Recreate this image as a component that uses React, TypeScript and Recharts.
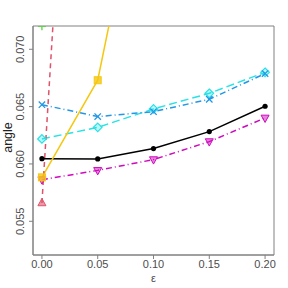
import React from "react";
import { LineChart, Line, XAxis, YAxis, ReferenceArea } from "recharts";

const eps = [0, 0.05, 0.1, 0.15, 0.2];
const seriesBlack = [0.06046, 0.06044, 0.06134, 0.06282, 0.06503];
const seriesRed = [0.0566, 0.135, null, null, null];
const seriesGreen = [0.072, 0.15, null, null, null];
const seriesBlue = [0.06517, 0.06413, 0.06456, 0.06564, 0.06788];
const seriesCyan = [0.06218, 0.06319, 0.0648, 0.06616, 0.06799];
const seriesMagenta = [0.05863, 0.05944, 0.06038, 0.06195, 0.06401];
const seriesYellow = [0.05883, 0.0673, 0.091, null, null];
const xTicks = [0, 0.05, 0.1, 0.15, 0.2];
const yTicks = [0.055, 0.06, 0.065, 0.07];

const data = eps.map((e, i) => ({
  eps: e,
  black: seriesBlack[i],
  red: seriesRed[i],
  green: seriesGreen[i],
  blue: seriesBlue[i],
  cyan: seriesCyan[i],
  magenta: seriesMagenta[i],
  yellow: seriesYellow[i],
}));

const C = {
  black: "#000000",
  red: "#DF536B",
  green: "#61D04F",
  blue: "#2297E6",
  cyan: "#28E2E5",
  magenta: "#CD0BBC",
  yellow: "#F5C710",
};

const FONT = "Liberation Sans, Arial, sans-serif";

const ok = (p: any) => p && p.cx != null && p.cy != null && p.value != null;

const CircleDot = (p: any) =>
  ok(p) ? <circle key={p.key} cx={p.cx} cy={p.cy} r={2.6} fill={C.black} /> : null;
const TriUp = (p: any) =>
  ok(p) ? (
    <polygon
      key={p.key}
      points={`${p.cx},${p.cy - 4.5} ${p.cx - 4},${p.cy + 2.8} ${p.cx + 4},${p.cy + 2.8}`}
      fill={C.red}
      fillOpacity={0.6}
      stroke={C.red}
      strokeWidth={1}
    />
  ) : null;
const TriDown = (p: any) =>
  ok(p) ? (
    <polygon
      key={p.key}
      points={`${p.cx},${p.cy + 4.5} ${p.cx - 4},${p.cy - 2.8} ${p.cx + 4},${p.cy - 2.8}`}
      fill={C.magenta}
      fillOpacity={0.5}
      stroke={C.magenta}
      strokeWidth={1}
    />
  ) : null;
const PlusDot = (p: any) =>
  ok(p) ? (
    <path key={p.key} d={`M${p.cx - 4},${p.cy}H${p.cx + 4}M${p.cx},${p.cy - 4}V${p.cy + 4}`} stroke={C.green} strokeWidth={1.3} fill="none" />
  ) : null;
const XDot = (p: any) =>
  ok(p) ? (
    <path key={p.key} d={`M${p.cx - 3.2},${p.cy - 3.2}L${p.cx + 3.2},${p.cy + 3.2}M${p.cx - 3.2},${p.cy + 3.2}L${p.cx + 3.2},${p.cy - 3.2}`} stroke={C.blue} strokeWidth={1.3} fill="none" />
  ) : null;
const DiamondDot = (p: any) =>
  ok(p) ? (
    <polygon
      key={p.key}
      points={`${p.cx},${p.cy - 4.3} ${p.cx + 4.3},${p.cy} ${p.cx},${p.cy + 4.3} ${p.cx - 4.3},${p.cy}`}
      fill={C.cyan}
      fillOpacity={0.3}
      stroke={C.cyan}
      strokeWidth={1.2}
    />
  ) : null;
const SquareDot = (p: any) =>
  ok(p) ? (
    <rect key={p.key} x={p.cx - 3.5} y={p.cy - 3.5} width={7} height={7} fill={C.yellow} fillOpacity={0.8} stroke={C.yellow} strokeWidth={1} />
  ) : null;

const YTick = (p: any) => {
  const { x, y, payload } = p;
  return (
    <text
      x={x - 3}
      y={y}
      transform={`rotate(-90 ${x - 3} ${y})`}
      textAnchor="middle"
      fontSize={11}
      fill="#4d4d4d"
      fontFamily={FONT}
    >
      {Number(payload.value).toFixed(3)}
    </text>
  );
};

const XTick = (p: any) => {
  const { x, payload } = p;
  return (
    <text x={x} y={268} textAnchor="middle" fontSize={11} fill="#4d4d4d" fontFamily={FONT}>
      {Number(payload.value).toFixed(2)}
    </text>
  );
};

const YLabel = (p: any) => {
  const vb = p.viewBox || { x: 0, y: 26, width: 33, height: 229 };
  const cy = vb.y + vb.height / 2 - 3;
  const x = 12;
  return (
    <text x={x} y={cy} transform={`rotate(-90 ${x} ${cy})`} textAnchor="middle" fontSize={12.5} fill="#222" fontFamily={FONT}>
      angle
    </text>
  );
};

const XLabel = (p: any) => {
  const vb = p.viewBox || { x: 33, y: 255, width: 241, height: 33 };
  const cx = vb.x + vb.width / 2;
  return (
    <text x={cx} y={282} textAnchor="middle" fontSize={11} fill="#4d4d4d" fontFamily={FONT}>
      ε
    </text>
  );
};

export default function App() {
  return (
    <div style={{ position: "absolute", left: 0, top: 0, width: 288, height: 288, background: "#fff" }}>
      <LineChart
        width={288}
        height={288}
        data={data}
        margin={{ top: 26, right: 14, bottom: 0, left: 0 }}
      >
        <XAxis
          dataKey="eps"
          type="number"
          domain={[-0.008, 0.208]}
          ticks={xTicks}
          allowDataOverflow
          height={33}
          stroke="#808080"
          tickSize={4}
          tick={<XTick />}
          label={<XLabel />}
        />
        <YAxis
          type="number"
          domain={[0.05206, 0.07203]}
          ticks={yTicks}
          allowDataOverflow
          width={33}
          stroke="#808080"
          tickSize={4}
          tick={<YTick />}
          label={<YLabel />}
        />
        <ReferenceArea x1={-0.008} x2={0.208} y1={0.05206} y2={0.07203} fill="none" stroke="#808080" strokeWidth={1} />
        <Line dataKey="black" stroke={C.black} strokeWidth={1.5} dot={<CircleDot />} isAnimationActive={false} />
        <Line dataKey="magenta" stroke={C.magenta} strokeWidth={1.5} strokeDasharray="6 3 1 3" dot={<TriDown />} isAnimationActive={false} />
        <Line dataKey="cyan" stroke={C.cyan} strokeWidth={1.5} strokeDasharray="8 4" dot={<DiamondDot />} isAnimationActive={false} />
        <Line dataKey="blue" stroke={C.blue} strokeWidth={1.5} strokeDasharray="6 3 1 3" dot={<XDot />} isAnimationActive={false} />
        <Line dataKey="yellow" stroke={C.yellow} strokeWidth={1.5} dot={<SquareDot />} isAnimationActive={false} />
        <Line dataKey="red" stroke={C.red} strokeWidth={1.5} strokeDasharray="5 4" dot={<TriUp />} isAnimationActive={false} />
        <Line dataKey="green" stroke={C.green} strokeWidth={1.5} strokeDasharray="1 3" dot={<PlusDot />} isAnimationActive={false} />
      </LineChart>
    </div>
  );
}
